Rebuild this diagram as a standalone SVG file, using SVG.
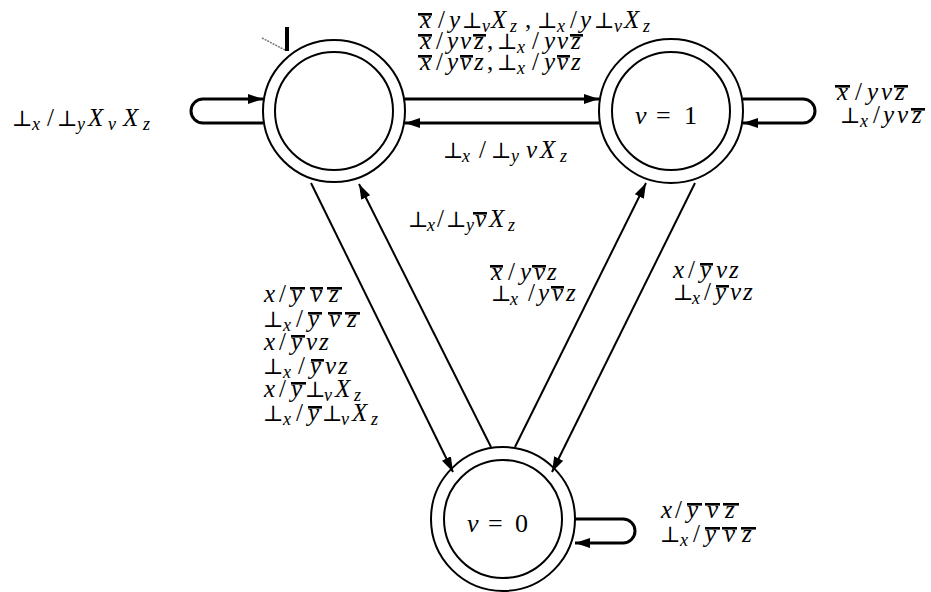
<svg xmlns="http://www.w3.org/2000/svg" width="931" height="592" viewBox="0 0 931 592">
<style>
.st{fill:none;stroke:#000;stroke-width:2}
.e{fill:none;stroke:#000;stroke-width:2}
.t{fill:none;stroke:#000;stroke-width:3}
.m{font-family:'Liberation Serif','DejaVu Serif',serif;font-size:25px;font-style:italic;fill:#000}
.u{font-style:normal}
.p{font-family:'DejaVu Serif',serif;font-style:normal;font-size:22px}
.s{font-size:18px}
.n{font-family:'Liberation Serif','DejaVu Serif',serif;font-size:26px;fill:#000}
.bar{fill:#000}
</style>
<defs>
<marker id="ah" markerUnits="userSpaceOnUse" markerWidth="16" markerHeight="10" refX="15" refY="5" orient="auto">
<path d="M0,0 L15,5 L0,10 z" fill="#000"/>
</marker>
</defs>
<rect x="0" y="0" width="931" height="592" fill="#fff"/>

<g id="initial">
<line x1="287" y1="27" x2="287" y2="51" stroke="#000" stroke-width="4"/>
<line x1="262" y1="38" x2="285" y2="50" stroke="#777" stroke-width="1.5" stroke-dasharray="2,1"/>
</g>

<g id="s0">
<circle class="st" cx="334" cy="111" r="71"/>
<circle class="st" cx="334" cy="111" r="59"/>
</g>
<g id="s1">
<circle class="st" cx="671" cy="111" r="72"/>
<circle class="st" cx="671" cy="111" r="59"/>
<text class="n" y="124"><tspan x="635" font-style="italic">v</tspan><tspan x="656">=</tspan><tspan x="684">1</tspan></text>
</g>
<g id="s2">
<circle class="st" cx="503" cy="519" r="72"/>
<circle class="st" cx="503" cy="519" r="59"/>
<text class="n" y="532"><tspan x="467" font-style="italic">v</tspan><tspan x="488">=</tspan><tspan x="515">0</tspan></text>
</g>

<g id="connectors">
<path class="t" d="M263,123 L203,123 A12,12 0 0 1 203,99 L263,99" marker-end="url(#ah)"/>
<path class="t" d="M743,99 L803,99 A12,12 0 0 1 803,123 L743,123" marker-end="url(#ah)"/>
<path class="t" d="M575,519 L623,519 A12,12 0 0 1 623,543 L575,543" marker-end="url(#ah)"/>
<path class="t" d="M405,99 L599,99" marker-end="url(#ah)"/>
<path class="t" d="M599,123 L405,123" marker-end="url(#ah)"/>
<path class="e" d="M311,183 L453,472" marker-end="url(#ah)"/>
<path class="e" d="M491,447 L359,184" marker-end="url(#ah)"/>
<path class="e" d="M515,447 L646,183" marker-end="url(#ah)"/>
<path class="e" d="M695,183 L552,472" marker-end="url(#ah)"/>
</g>

<g id="labels">
<!-- left loop -->
<text class="m"><tspan class="p" x="12" y="126">⊥</tspan><tspan class="s" x="32" y="130">x</tspan><tspan class="u" x="47" y="126">/</tspan><tspan class="p" x="57" y="126">⊥</tspan><tspan class="s" x="77" y="130">y</tspan><tspan x="88" y="126">X</tspan><tspan class="s" x="108" y="130">v</tspan><tspan x="123" y="126">X</tspan><tspan class="s" x="143" y="130">z</tspan></text>

<!-- top edge -->
<text class="m"><tspan x="420" y="28">x</tspan><tspan class="u" x="438" y="28">/</tspan><tspan x="449" y="28">y</tspan><tspan class="p" x="462" y="28">⊥</tspan><tspan class="s" x="482" y="32">v</tspan><tspan x="491" y="28">X</tspan><tspan class="s" x="510" y="32">z</tspan><tspan class="u" x="525" y="28">,</tspan><tspan class="p" x="537" y="28">⊥</tspan><tspan class="s" x="557" y="32">x</tspan><tspan class="u" x="570" y="28">/</tspan><tspan x="580" y="28">y</tspan><tspan class="p" x="594" y="28">⊥</tspan><tspan class="s" x="614" y="32">v</tspan><tspan x="624" y="28">X</tspan><tspan class="s" x="643" y="32">z</tspan></text>
<text class="m"><tspan x="420" y="49">x</tspan><tspan class="u" x="436" y="49">/</tspan><tspan x="447" y="49">y</tspan><tspan x="460" y="49">v</tspan><tspan x="474" y="49">z</tspan><tspan class="u" x="487" y="49">,</tspan><tspan class="p" x="497" y="49">⊥</tspan><tspan class="s" x="517" y="53">x</tspan><tspan class="u" x="532" y="49">/</tspan><tspan x="544" y="49">y</tspan><tspan x="557" y="49">v</tspan><tspan x="571" y="49">z</tspan></text>
<text class="m"><tspan x="420" y="70">x</tspan><tspan class="u" x="436" y="70">/</tspan><tspan x="447" y="70">y</tspan><tspan x="460" y="70">v</tspan><tspan x="474" y="70">z</tspan><tspan class="u" x="487" y="70">,</tspan><tspan class="p" x="497" y="70">⊥</tspan><tspan class="s" x="517" y="74">x</tspan><tspan class="u" x="532" y="70">/</tspan><tspan x="544" y="70">y</tspan><tspan x="557" y="70">v</tspan><tspan x="571" y="70">z</tspan></text>

<!-- right loop -->
<text class="m"><tspan x="837" y="100">x</tspan><tspan class="u" x="855" y="100">/</tspan><tspan x="867" y="100">y</tspan><tspan x="881" y="100">v</tspan><tspan x="895" y="100">z</tspan></text>
<text class="m"><tspan class="p" x="840" y="123">⊥</tspan><tspan class="s" x="860" y="127">x</tspan><tspan class="u" x="873" y="123">/</tspan><tspan x="883" y="123">y</tspan><tspan x="897" y="123">v</tspan><tspan x="912" y="123">z</tspan></text>

<!-- back edge top -->
<text class="m"><tspan class="p" x="443" y="158">⊥</tspan><tspan class="s" x="462" y="162">x</tspan><tspan class="u" x="479" y="158">/</tspan><tspan class="p" x="491" y="158">⊥</tspan><tspan class="s" x="511" y="162">y</tspan><tspan x="526" y="158">v</tspan><tspan x="540" y="158">X</tspan><tspan class="s" x="560" y="162">z</tspan></text>

<!-- bottom -> s0 -->
<text class="m"><tspan class="p" x="408" y="227">⊥</tspan><tspan class="s" x="427" y="231">x</tspan><tspan class="u" x="437" y="227">/</tspan><tspan class="p" x="446" y="227">⊥</tspan><tspan class="s" x="466" y="231">y</tspan><tspan x="475" y="227">v</tspan><tspan x="489" y="227">X</tspan><tspan class="s" x="508" y="231">z</tspan></text>

<!-- bottom -> s1 -->
<text class="m"><tspan x="491" y="280">x</tspan><tspan class="u" x="508" y="280">/</tspan><tspan x="520" y="280">y</tspan><tspan x="534" y="280">v</tspan><tspan x="547" y="280">z</tspan></text>
<text class="m"><tspan class="p" x="491" y="301">⊥</tspan><tspan class="s" x="510" y="305">x</tspan><tspan class="u" x="528" y="301">/</tspan><tspan x="538" y="301">y</tspan><tspan x="552" y="301">v</tspan><tspan x="566" y="301">z</tspan></text>

<!-- s1 -> bottom -->
<text class="m"><tspan x="673" y="278">x</tspan><tspan class="u" x="688" y="278">/</tspan><tspan x="700" y="278">y</tspan><tspan x="716" y="278">v</tspan><tspan x="729" y="278">z</tspan></text>
<text class="m"><tspan class="p" x="673" y="300">⊥</tspan><tspan class="s" x="692" y="304">x</tspan><tspan class="u" x="704" y="300">/</tspan><tspan x="715" y="300">y</tspan><tspan x="730" y="300">v</tspan><tspan x="743" y="300">z</tspan></text>

<!-- s0 -> bottom -->
<text class="m"><tspan x="264" y="302">x</tspan><tspan class="u" x="279" y="302">/</tspan><tspan x="291" y="302">y</tspan><tspan x="311" y="302">v</tspan><tspan x="329" y="302">z</tspan></text>
<text class="m"><tspan class="p" x="263" y="327">⊥</tspan><tspan class="s" x="283" y="331">x</tspan><tspan class="u" x="296" y="327">/</tspan><tspan x="308" y="327">y</tspan><tspan x="329" y="327">v</tspan><tspan x="347" y="327">z</tspan></text>
<text class="m"><tspan x="264" y="350">x</tspan><tspan class="u" x="279" y="350">/</tspan><tspan x="291" y="350">y</tspan><tspan x="306" y="350">v</tspan><tspan x="319" y="350">z</tspan></text>
<text class="m"><tspan class="p" x="263" y="374">⊥</tspan><tspan class="s" x="283" y="378">x</tspan><tspan class="u" x="298" y="374">/</tspan><tspan x="310" y="374">y</tspan><tspan x="325" y="374">v</tspan><tspan x="338" y="374">z</tspan></text>
<text class="m"><tspan x="264" y="397">x</tspan><tspan class="u" x="279" y="397">/</tspan><tspan x="291" y="397">y</tspan><tspan class="p" x="305" y="397">⊥</tspan><tspan class="s" x="324" y="401">v</tspan><tspan x="335" y="397">X</tspan><tspan class="s" x="354" y="401">z</tspan></text>
<text class="m"><tspan class="p" x="263" y="421">⊥</tspan><tspan class="s" x="283" y="425">x</tspan><tspan class="u" x="296" y="421">/</tspan><tspan x="308" y="421">y</tspan><tspan class="p" x="322" y="421">⊥</tspan><tspan class="s" x="341" y="425">v</tspan><tspan x="352" y="421">X</tspan><tspan class="s" x="371" y="425">z</tspan></text>

<!-- bottom loop -->
<text class="m"><tspan x="661" y="518">x</tspan><tspan class="u" x="675" y="518">/</tspan><tspan x="687" y="518">y</tspan><tspan x="707" y="518">v</tspan><tspan x="725" y="518">z</tspan></text>
<text class="m"><tspan class="p" x="660" y="542">⊥</tspan><tspan class="s" x="680" y="546">x</tspan><tspan class="u" x="693" y="542">/</tspan><tspan x="705" y="542">y</tspan><tspan x="724" y="542">v</tspan><tspan x="742" y="542">z</tspan></text>

<g id="overbars" class="bar">
<rect x="418" y="13" width="14" height="2.6"/>
<rect x="418" y="34" width="14" height="2.6"/>
<rect x="473" y="34" width="13" height="2.6"/>
<rect x="570" y="34" width="13" height="2.6"/>
<rect x="418" y="55" width="14" height="2.6"/>
<rect x="460" y="55" width="13" height="2.6"/>
<rect x="557" y="55" width="13" height="2.6"/>
<rect x="835" y="85" width="15" height="2.6"/>
<rect x="894" y="85" width="14" height="2.6"/>
<rect x="911" y="108" width="14" height="2.6"/>
<rect x="473" y="212" width="14" height="2.6"/>
<rect x="490" y="265" width="13" height="2.6"/>
<rect x="532" y="265" width="14" height="2.6"/>
<rect x="551" y="286" width="13" height="2.6"/>
<rect x="700" y="263" width="13" height="2.6"/>
<rect x="716" y="285" width="13" height="2.6"/>
<rect x="290" y="287" width="15" height="2.6"/>
<rect x="310" y="287" width="13" height="2.6"/>
<rect x="327" y="287" width="15" height="2.6"/>
<rect x="308" y="312" width="14" height="2.6"/>
<rect x="328" y="312" width="14" height="2.6"/>
<rect x="345" y="312" width="15" height="2.6"/>
<rect x="291" y="335" width="14" height="2.6"/>
<rect x="311" y="359" width="13" height="2.6"/>
<rect x="291" y="382" width="15" height="2.6"/>
<rect x="308" y="406" width="14" height="2.6"/>
<rect x="687" y="503" width="15" height="2.6"/>
<rect x="705" y="503" width="15" height="2.6"/>
<rect x="723" y="503" width="16" height="2.6"/>
<rect x="705" y="527" width="15" height="2.6"/>
<rect x="722" y="527" width="15" height="2.6"/>
<rect x="741" y="527" width="15" height="2.6"/>
</g>
</g>
</svg>
